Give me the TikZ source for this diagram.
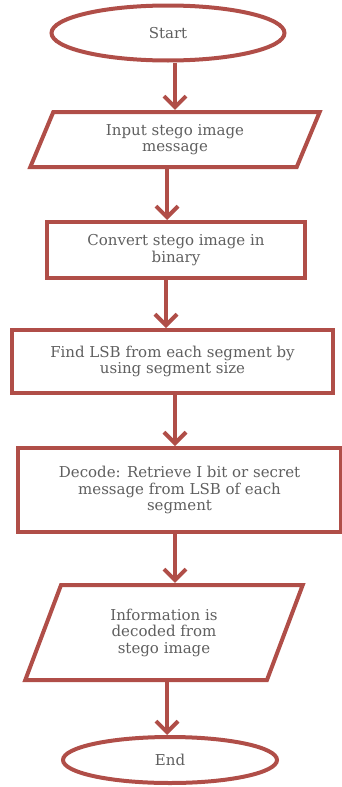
\documentclass[tikz,border=0pt]{standalone}
\usepackage{fontspec}
\setmainfont{DejaVu Serif}
\usepackage{xcolor}
\usetikzlibrary{shapes.geometric,arrows.meta}
\definecolor{flowred}{RGB}{176,78,72}
\definecolor{flowtext}{RGB}{95,95,95}
\tikzset{term/.style={ellipse, draw=flowred, line width=4pt, text=flowtext, font=\fontsize{15}{16.5}\selectfont}}
\tikzset{proc/.style={rectangle, draw=flowred, line width=4pt, align=center, text=flowtext, font=\fontsize{15}{16.5}\selectfont}}
\tikzset{io/.style={trapezium, trapezium left angle=70, trapezium right angle=110, trapezium stretches=true, draw=flowred, line width=4pt, align=center, text=flowtext, font=\fontsize{15}{16.5}\selectfont}}
\tikzset{arrow/.style={-{Straight Barb[length=11pt,width=22pt]}, draw=flowred, line width=4pt}}

\begin{document}
\begin{tikzpicture}[x=1pt,y=-1pt]
  \useasboundingbox (0,0) rectangle (342,787);

  \node[term, minimum width=233pt, minimum height=55pt] (start) at (168,33) {Start};
  \node[io, minimum width=290pt, minimum height=55pt] (input) at (175,139.5) {Input stego image\\message};
  \node[proc, minimum width=258pt, minimum height=56pt] (convert) at (176,250) {Convert stego image in\\binary};
  \node[proc, minimum width=321pt, minimum height=63pt] (find) at (172.5,361.5) {Find LSB from each segment by\\using segment size};
  \node[proc, minimum width=323pt, minimum height=84pt] (decode) at (179.5,490) {Decode: Retrieve I bit or secret\\message from LSB of each\\segment};
  \node[io, minimum width=278pt, minimum height=95pt] (info) at (164,632.5) {Information is\\decoded from\\stego image};
  \node[term, minimum width=214pt, minimum height=46pt] (end) at (170,760) {End};

  \draw[arrow] ([xshift=7pt]start.south) -- ([xshift=7pt]start.south |- input.north);
  \draw[arrow] ([xshift=-8pt]input.south) -- ([xshift=-8pt]input.south |- convert.north);
  \draw[arrow] ([xshift=-10pt]convert.south) -- ([xshift=-10pt]convert.south |- find.north);
  \draw[arrow] ([xshift=2.5pt]find.south) -- ([xshift=2.5pt]find.south |- decode.north);
  \draw[arrow] ([xshift=-4.5pt]decode.south) -- ([xshift=-4.5pt]decode.south |- info.north);
  \draw[arrow] ([xshift=3pt]info.south) -- ([xshift=3pt]info.south |- end.north);

\end{tikzpicture}
\end{document}
